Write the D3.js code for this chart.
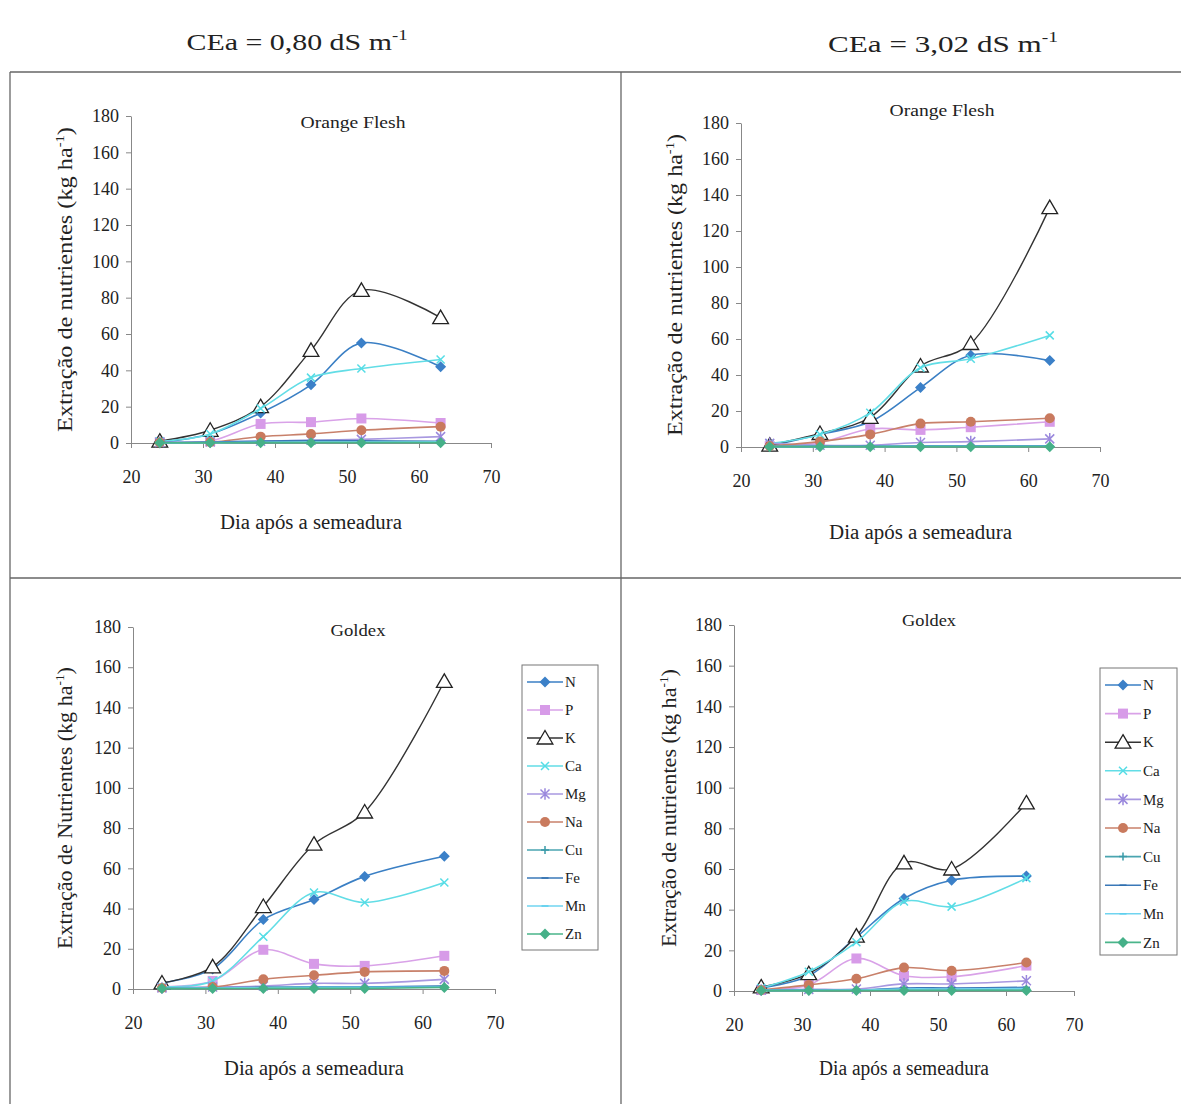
<!DOCTYPE html>
<html>
<head>
<meta charset="utf-8">
<script src="https://cdn.jsdelivr.net/npm/d3@7"></script>
<style>
  body { margin: 0; background: #fff; }
  svg text { font-family: "Liberation Serif", "Times New Roman", serif; fill: #222; }
</style>
</head>
<body>
<svg id="chart" width="1181" height="1104"></svg>
<script>
// data
const days = [24, 31, 38, 45, 52, 63];
const elements = ['N', 'P', 'K', 'Ca', 'Mg', 'Na', 'Cu', 'Fe', 'Mn', 'Zn'];
const xTicks = [20, 30, 40, 50, 60, 70];
const yTicks = [0, 20, 40, 60, 80, 100, 120, 140, 160, 180];

// rows follow the order of `elements`
const orange080 = [
  [0.5, 5, 16.5, 32, 55, 42],
  [0.5, 1, 10.5, 11.5, 13.5, 11],
  [1, 7, 20, 51, 84, 69],
  [1, 5, 19, 36, 41, 46],
  [0.3, 0.5, 1, 1.5, 2, 3.5],
  [0.3, 0.5, 3.5, 5, 7, 9],
  [0.1, 0.2, 0.3, 0.4, 0.4, 0.5],
  [0.2, 0.5, 1, 1.3, 1.2, 1],
  [0.1, 0.2, 0.4, 0.5, 0.5, 0.6],
  [0.1, 0.1, 0.2, 0.2, 0.2, 0.2]
];
const orange302 = [
  [0.5, 7, 14, 33, 51, 48],
  [0.5, 2.5, 10, 9.5, 11, 14],
  [1, 7.5, 16.5, 45, 57.5, 133],
  [2, 7, 19, 44, 49, 62],
  [2, 1, 1, 2.5, 3, 4.5],
  [0.5, 3, 7, 13, 14, 16],
  [0.2, 0.2, 0.3, 0.3, 0.3, 0.4],
  [0.3, 0.4, 0.5, 0.6, 0.6, 0.6],
  [0.2, 0.3, 0.3, 0.4, 0.4, 0.4],
  [0.2, 0.2, 0.2, 0.2, 0.2, 0.2]
];
const goldex080 = [
  [3, 10, 34.5, 44.5, 56, 66],
  [1, 4, 19.5, 12.5, 11.5, 16.5],
  [3, 11, 41, 72, 88, 153],
  [1, 4, 26, 48, 43, 53],
  [0.5, 1, 1.5, 2.8, 2.8, 4.8],
  [0.5, 1, 4.8, 6.8, 8.5, 9],
  [0.3, 0.5, 0.8, 1, 1, 1.2],
  [0.5, 0.6, 0.8, 1, 1, 1.5],
  [0.3, 0.5, 0.6, 0.8, 0.8, 1],
  [0.2, 0.2, 0.3, 0.3, 0.3, 0.8]
];
const goldex302 = [
  [1.5, 7.5, 26.5, 45.5, 54.5, 56.5],
  [0.5, 3, 16, 7.5, 7, 12.5],
  [2, 8.5, 27, 63, 60, 92.5],
  [1.5, 9.5, 24, 44, 41.5, 55.5],
  [0.5, 0.8, 1, 3.5, 3.5, 5],
  [0.5, 3, 6, 11.5, 10, 14],
  [0.2, 0.3, 0.4, 0.8, 0.8, 1],
  [0.5, 0.5, 0.5, 1.5, 1.5, 1.8],
  [0.3, 0.3, 0.5, 1, 1, 1.2],
  [0.2, 0.2, 0.2, 0.3, 0.3, 0.3]
];

// styles per element
const styles = {
  N:  { line: '#3a7fc4', marker: 'diamond', fill: '#3b80c8', r: 5.5 },
  P:  { line: '#d9a2e8', marker: 'square', fill: '#d79be8', r: 5 },
  K:  { line: '#333333', marker: 'triangle', fill: '#fff', stroke: '#222', r: 7.5 },
  Ca: { line: '#62dde6', marker: 'x', stroke: '#55dde6', r: 4 },
  Mg: { line: '#a898e0', marker: 'star', stroke: '#9a88dd', r: 4.5 },
  Na: { line: '#c8806a', marker: 'circle', fill: '#c97a5e', r: 5 },
  Cu: { line: '#4aa5b0', marker: 'plus', stroke: '#3a9aa8', r: 4 },
  Fe: { line: '#3a78b8', marker: 'dash', stroke: '#2f6fae', r: 3.5 },
  Mn: { line: '#70d4f0', marker: 'dash', stroke: '#5ccfee', r: 3.5 },
  Zn: { line: '#4ab58a', marker: 'diamond', fill: '#45b088', r: 5.5 }
};

const panels = [
  { rows: orange080, title: 'Orange Flesh', yLabel: 'Extração de nutrientes', xr: [131, 491], yr: [443, 116],
    titlePos: [353, 122], titleW: 105, yLabelX: 65, yLabelW: 305, xLabelY: 522, xLabelW: 182 },
  { rows: orange302, title: 'Orange Flesh', yLabel: 'Extração de nutrientes', xr: [741, 1100], yr: [447, 123],
    titlePos: [942, 110], titleW: 105, yLabelX: 675, yLabelW: 302, xLabelY: 532, xLabelW: 183 },
  { rows: goldex080, title: 'Goldex', yLabel: 'Extração de Nutrientes', xr: [133, 495], yr: [989, 627],
    titlePos: [358, 630], titleW: 55, yLabelX: 65, yLabelW: 282, xLabelY: 1068, xLabelW: 180,
    legend: { x: 522, y: 665, w: 76, h: 285, step: 28 } },
  { rows: goldex302, title: 'Goldex', yLabel: 'Extração de nutrientes', xr: [734, 1074], yr: [991, 625],
    titlePos: [929, 620], titleW: 54, yLabelX: 669, yLabelW: 278, xLabelY: 1068, xLabelW: 170,
    legend: { x: 1100, y: 668, w: 77, h: 287, step: 28.6 } }
];

const svg = d3.select('#chart');

// outer table frame
const frameColor = '#666';
[[10, 72, 1181, 72], [10, 72, 10, 1104], [621, 72, 621, 1104], [10, 578, 1181, 578]].forEach(l => {
  svg.append('line').attr('x1', l[0]).attr('y1', l[1]).attr('x2', l[2]).attr('y2', l[3])
    .attr('stroke', frameColor).attr('stroke-width', 1.3);
});

// centred text stretched horizontally to a target width
function placeText(parent, x, y, rotate, width, size, build) {
  const g = parent.append('g');
  const t = g.append('text').attr('text-anchor', 'middle').attr('dy', '0.35em').attr('font-size', size);
  build(t);
  const s = width / t.node().getComputedTextLength();
  g.attr('transform', `translate(${x},${y})${rotate ? ' rotate(-90)' : ''} scale(${s},1)`);
  return g;
}

// headers
function header(x, y, w, txt) {
  placeText(svg, x, y, false, w, 24, t => {
    t.append('tspan').text(txt);
    t.append('tspan').attr('font-size', 15).attr('dy', -10).text('-1');
  });
}
header(297, 42, 221, 'CEa = 0,80 dS m');
header(943, 44, 230, 'CEa = 3,02 dS m');

function markerPath(type, r) {
  switch (type) {
    case 'diamond': return `M0,${-r}L${r},0L0,${r}L${-r},0Z`;
    case 'square': return `M${-r},${-r}h${2 * r}v${2 * r}h${-2 * r}Z`;
    case 'triangle': return `M0,${-r}L${r * 1.05},${r * 0.8}L${-r * 1.05},${r * 0.8}Z`;
    case 'circle': return `M${r},0A${r},${r} 0 1,1 ${-r},0A${r},${r} 0 1,1 ${r},0Z`;
    case 'x': return `M${-r},${-r}L${r},${r}M${-r},${r}L${r},${-r}`;
    case 'star': return `M${-r},${-r}L${r},${r}M${-r},${r}L${r},${-r}M0,${-r * 1.3}V${r * 1.3}`;
    case 'plus': return `M${-r},0H${r}M0,${-r}V${r}`;
    case 'dash': return `M${-r},0H${r}`;
  }
}

function drawMarker(g, el, x, y) {
  const s = styles[el];
  g.append('path')
    .attr('d', markerPath(s.marker, s.r))
    .attr('transform', `translate(${x},${y})`)
    .attr('fill', s.fill || 'none')
    .attr('stroke', s.stroke || 'none')
    .attr('stroke-width', s.marker === 'triangle' ? 1.3 : 1.5);
}

panels.forEach(p => {
  const g = svg.append('g');
  const x = d3.scaleLinear().domain([20, 70]).range(p.xr);
  const y = d3.scaleLinear().domain([0, 180]).range(p.yr);

  const yAxis = g.append('g').attr('transform', `translate(${p.xr[0]},0)`)
    .call(d3.axisLeft(y).tickValues(yTicks).tickSize(5).tickPadding(7).tickSizeOuter(0));
  const xAxis = g.append('g').attr('transform', `translate(0,${p.yr[0]})`)
    .call(d3.axisBottom(x).tickValues(xTicks).tickSize(5).tickPadding(22).tickSizeOuter(0));
  [yAxis, xAxis].forEach(a => {
    a.attr('font-family', null);
    a.selectAll('path, line').attr('stroke', '#888');
    a.selectAll('text').attr('font-size', 18).attr('fill', '#222');
  });

  // titles
  placeText(g, p.titlePos[0], p.titlePos[1], false, p.titleW, 17, t => t.text(p.title));
  placeText(g, (p.xr[0] + p.xr[1]) / 2, p.xLabelY, false, p.xLabelW, 20, t => t.text('Dia após a semeadura'));
  placeText(g, p.yLabelX, (p.yr[0] + p.yr[1]) / 2, true, p.yLabelW, 20, t => {
    t.append('tspan').text(p.yLabel + ' (kg ha');
    t.append('tspan').attr('font-size', 12).attr('dy', -8).text('-1');
    t.append('tspan').attr('dy', 8).text(')');
  });

  // series
  const line = d3.line().x((v, i) => x(days[i])).y(v => y(v)).curve(d3.curveCatmullRom.alpha(0.5));
  p.rows.forEach((vals, k) => {
    const el = elements[k];
    g.append('path').attr('d', line(vals)).attr('fill', 'none')
      .attr('stroke', styles[el].line).attr('stroke-width', el === 'K' ? 1.4 : 1.6);
    vals.forEach((v, i) => drawMarker(g, el, x(days[i]), y(v)));
  });

  // legend
  if (p.legend) {
    const L = p.legend;
    g.append('rect').attr('x', L.x).attr('y', L.y).attr('width', L.w).attr('height', L.h)
      .attr('fill', '#fff').attr('stroke', '#777').attr('stroke-width', 1);
    elements.forEach((el, k) => {
      const cy = L.y + 17 + k * L.step;
      g.append('line').attr('x1', L.x + 5).attr('x2', L.x + 41).attr('y1', cy).attr('y2', cy)
        .attr('stroke', styles[el].line).attr('stroke-width', 1.6);
      drawMarker(g, el, L.x + 23, cy);
      g.append('text').attr('x', L.x + 43).attr('y', cy).attr('dy', '0.35em')
        .attr('font-size', 15).text(el);
    });
  }
});
</script>
</body>
</html>
